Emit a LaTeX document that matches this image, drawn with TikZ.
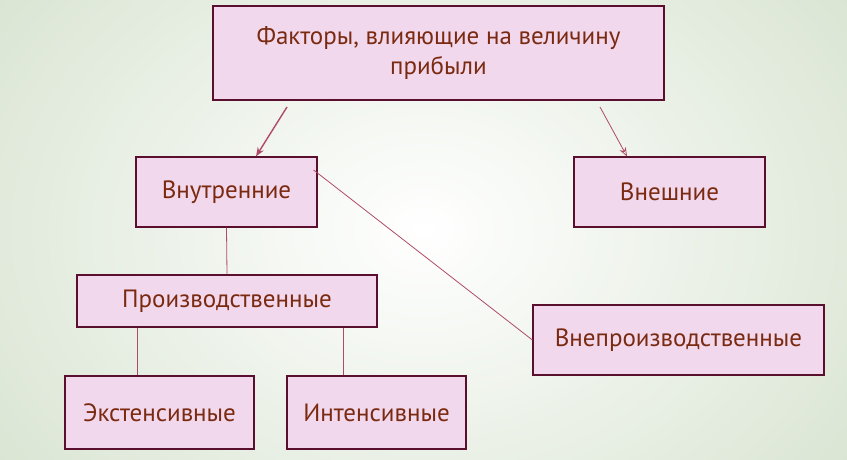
\documentclass[tikz,border=0pt]{standalone}
\usepackage{fontspec}
\setmainfont{PT Sans}
\usetikzlibrary{arrows.meta}
\definecolor{boxfill}{HTML}{F2D8EC}
\definecolor{boxline}{HTML}{5A0F2E}
\definecolor{txt}{HTML}{7A2A10}
\definecolor{conn}{HTML}{B04A6A}
\definecolor{bgout}{HTML}{D3E0CB}
\begin{document}
\begin{tikzpicture}[x=1pt,y=-1pt,
  box/.style={draw=boxline,line width=1.2pt,fill=boxfill,text=txt,font=\fontsize{25}{31}\selectfont,align=center,inner sep=0pt},
  conn/.style={draw=conn,line width=0.8pt}]
\useasboundingbox (0,0) rectangle (847,460);
\shade[inner color=white,outer color=bgout] (-200,-250) rectangle (1047,710);
\node[box,minimum width=451pt,minimum height=94pt] (top) at (438.5,53) {Факторы, влияющие на величину\\прибыли};
\node[box,minimum width=181pt,minimum height=70pt] (vn) at (226.5,192) {Внутренние};
\node[box,minimum width=191pt,minimum height=70pt] (ve) at (669.5,192) {Внешние};
\node[box,minimum width=300pt,minimum height=52pt] (pr) at (227,301) {Производственные};
\node[box,minimum width=291pt,minimum height=70pt] (np) at (678.5,340) {Внепроизводственные};
\node[box,minimum width=189pt,minimum height=73pt] (ek) at (159.5,412.5) {Экстенсивные};
\node[box,minimum width=179pt,minimum height=73pt] (in) at (376.5,412.5) {Интенсивные};
\coordinate (a1) at (287,107);
\coordinate (a2) at (600,107);
\draw[conn,line width=1.4pt,-{Stealth[length=9pt,width=7pt,open]}] (a1) -- (vn.north -| 256,0);
\draw[conn,-{Stealth[length=9pt,width=7pt,open]}] (a2) -- (ve.north -| 627,0);
\draw[conn] (vn.south) -- (pr.north);
\draw[conn] (vn.north east |- 0,170) ++(-4,0) -- (np.west);
\draw[conn] (pr.south -| 137,0) -- (ek.north -| 137,0);
\draw[conn] (pr.south -| 343,0) -- (in.north -| 343,0);
\end{tikzpicture}
\end{document}
